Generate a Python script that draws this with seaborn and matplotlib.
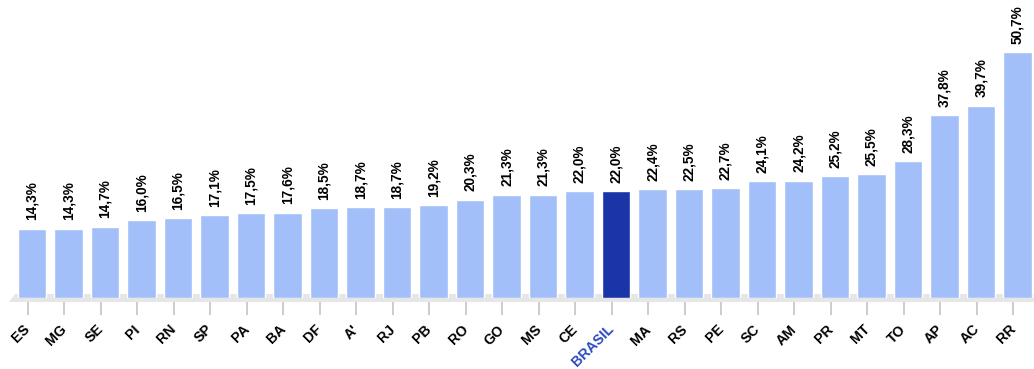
import matplotlib
matplotlib.use("Agg")
import matplotlib.pyplot as plt
import numpy as np
import pandas as pd
import seaborn as sns
from matplotlib.patches import Polygon

# Share per unidade da federação, ordered ascending, with the national figure
states = ["ES", "MG", "SE", "PI", "RN", "SP", "PA", "BA", "DF", "A'", "RJ", "PB",
          "RO", "GO", "MS", "CE", "BRASIL", "MA", "RS", "PE", "SC", "AM", "PR",
          "MT", "TO", "AP", "AC", "RR"]
values = [14.3, 14.3, 14.7, 16.0, 16.5, 17.1, 17.5, 17.6, 18.5, 18.7, 18.7, 19.2,
          20.3, 21.3, 21.3, 22.0, 22.0, 22.4, 22.5, 22.7, 24.1, 24.2, 25.2,
          25.5, 28.3, 37.8, 39.7, 50.7]
highlight = "BRASIL"

BAR = "#a3bffa"
BAR_HI = "#1a35a8"
LABEL_HI = "#2a48c0"

sns.set_theme(style="white")
plt.rcParams["font.family"] = ["Liberation Sans", "DejaVu Sans"]

W, H = 1034, 369
fig = plt.figure(figsize=(W / 100, H / 100), dpi=100)
base_px = 298
ax = fig.add_axes([0, (H - base_px) / H, 1, base_px / H])

df = pd.DataFrame({"uf": states, "pct": values})
palette = {s: (BAR_HI if s == highlight else BAR) for s in states}
sns.barplot(data=df, x="uf", y="pct", hue="uf", palette=palette, saturation=1,
            width=0.77, legend=False, ax=ax, zorder=3)

ax.set_xlim(-32 / 36.5, (W - 32) / 36.5)
ax.set_ylim(0, base_px / 4.845)
ax.set_xlabel("")
ax.set_ylabel("")
ax.set_yticks([])
for sp in ax.spines.values():
    sp.set_visible(False)

# grey floor under the bars
floor = Polygon([(15 / W, (H - 294) / H), (1, (H - 294) / H),
                 (1, (H - 302) / H), (9 / W, (H - 302) / H)],
                closed=True, transform=fig.transFigure, facecolor="#e6e6e6",
                edgecolor="none", zorder=1, clip_on=False)
ax.add_patch(floor)

# tick marks and rotated state codes
pos = np.arange(len(states)) - 0.11
ax.set_xticks(pos)
ax.set_xticklabels(states, rotation=45, ha="right", va="center",
                   rotation_mode="anchor", fontsize=10.2, fontweight="bold")
ax.tick_params(axis="x", bottom=True, length=12, width=1.4, color="#cccccc",
               pad=9)
for lbl, s in zip(ax.get_xticklabels(), states):
    lbl.set_color(LABEL_HI if s == highlight else "black")

# value labels above each bar
for cont, v in zip(ax.containers, values):
    ax.bar_label(cont, labels=[f"{v:.1f}%".replace(".", ",")], rotation=90,
                 padding=6, fontsize=9.8, fontweight="bold", color="black")

fig.savefig("out.png", dpi=100)
